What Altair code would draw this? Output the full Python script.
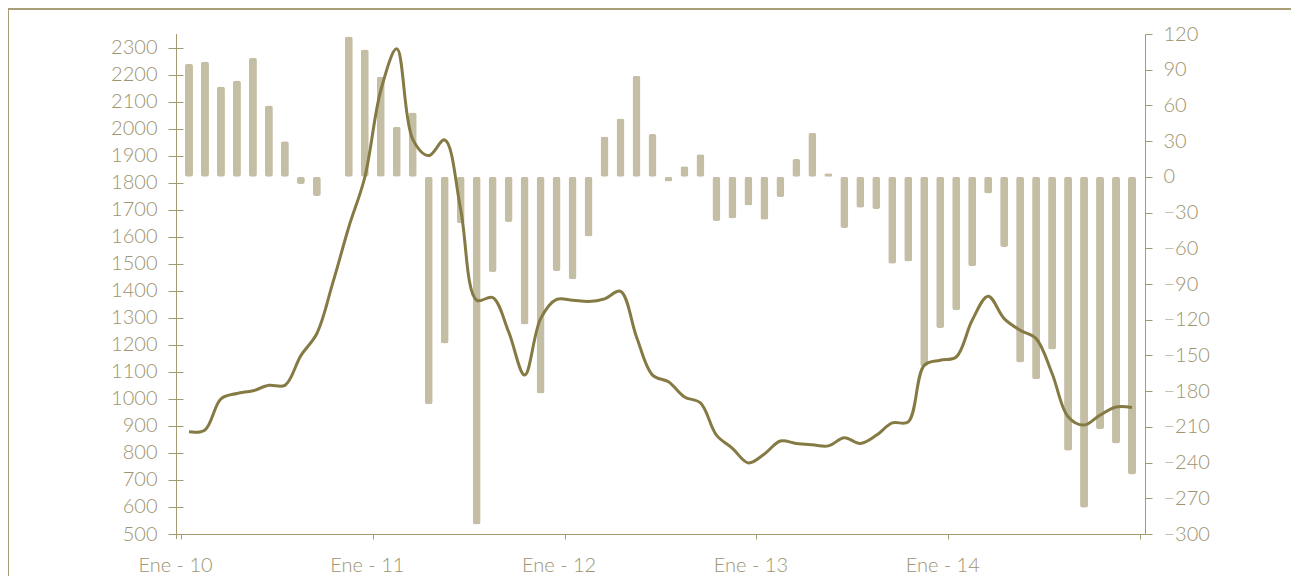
import altair as alt
import pandas as pd

# Monthly series, Jan 2010 .. Dec 2014
bar_values = [95, 97, 76, 81, 100, 60, 30, -6, -16, None,
              118, 107, 84, 42, 54, -191, -140, -39, -292, -80,
              -38, -124, -182, -79, -86, -50, 34, 49, 85, 36,
              -4, 9, 19, -37, -35, -24, -36, -17, 15, 37,
              3, -43, -26, -27, -73, -71, -159, -127, -112, -75,
              -14, -59, -156, -170, -145, -230, -278, -212, -224, -250]
line_values = [878, 885, 1000, 1020, 1030, 1050, 1050, 1160, 1242, 1430,
               1636, 1820, 2141, 2295, 1960, 1900, 1958, 1700, 1365, 1375,
               1248, 1088, 1297, 1368, 1365, 1360, 1370, 1398, 1229, 1088,
               1063, 1007, 985, 866, 817, 763, 796, 844, 835, 830,
               826, 856, 835, 865, 911, 915, 1124, 1143, 1155, 1291,
               1380, 1297, 1254, 1223, 1094, 934, 903, 940, 970, 968]
tick_positions = [0, 12, 24, 36, 48, 60]
tick_labels = ["Ene - 10", "Ene - 11", "Ene - 12", "Ene - 13", "Ene - 14", ""]
left_ticks = list(range(500, 2301, 100))
right_ticks = list(range(-300, 121, 30))

df = pd.DataFrame({
    "m": [i + 0.5 for i in range(len(line_values))],
    "bar": bar_values,
    "line": line_values,
})

AX = "#a39a72"
TXT = "#9d9470"
BAR = "#c4bea5"
LINE = "#857a43"
FRAME = "#a89f78"
FONT = "Lato"
W, H = 969, 500

label_expr = " : ".join(
    f"datum.value == {p} ? '{l}'" for p, l in zip(tick_positions, tick_labels)
) + " : ''"

xscale = alt.Scale(domain=[0, 60], nice=False, zero=False)
xaxis = alt.Axis(values=tick_positions, labelExpr=label_expr, grid=False,
                 domainColor=AX, tickColor=AX, tickSize=5, labelColor=TXT,
                 labelFont=FONT, labelFontSize=20, labelFontWeight=300,
                 labelPadding=16, labelOffset=-6,
                 title=None, labelFlush=False)

bars = alt.Chart(df).mark_bar(color=BAR, size=8, cornerRadius=2.5).encode(
    x=alt.X("m:Q", scale=xscale, axis=xaxis),
    y=alt.Y("bar:Q", scale=alt.Scale(domain=[-300, 120], nice=False),
            axis=alt.Axis(orient="right", values=right_ticks, grid=False,
                          format="d",
                          domainColor=AX, tickColor=AX, tickSize=7,
                          labelColor=TXT, labelFont=FONT, labelFontSize=20,
                          labelFontWeight=300,
                          labelPadding=11, title=None, labelFlush=False)),
)

line = alt.Chart(df).mark_line(color=LINE, strokeWidth=3,
                               interpolate="catmull-rom").encode(
    x=alt.X("m:Q", scale=xscale, axis=xaxis),
    y=alt.Y("line:Q", scale=alt.Scale(domain=[500, 2350], nice=False, zero=False),
            axis=alt.Axis(orient="left", values=left_ticks, grid=False,
                          format="d",
                          domain=False, offset=-7, tickColor=AX, tickSize=15,
                          labelColor=TXT, labelFont=FONT, labelFontSize=20,
                          labelFontWeight=300,
                          labelPadding=11, title=None, labelFlush=False)),
)

left_domain = alt.Chart(df).mark_rule(color=AX, strokeWidth=1).encode(
    x=alt.value(0.5), y=alt.value(0), y2=alt.value(H + 5)
)

frame_top = alt.Chart(df).mark_rule(color=FRAME, strokeWidth=2).encode(
    x=alt.value(-168), x2=alt.value(W + 200), y=alt.value(-25)
)
frame_left = alt.Chart(df).mark_rule(color=FRAME, strokeWidth=2).encode(
    x=alt.value(-168), y=alt.value(-26), y2=alt.value(H + 200)
)

chart = alt.layer(bars, line, left_domain, frame_top, frame_left).resolve_scale(
    y="independent"
).properties(
    width=W, height=H,
    autosize=alt.AutoSizeParams(type="none"),
    padding={"left": 168, "top": 26, "right": 146, "bottom": 42},
).configure_view(stroke=None)

chart.save("out.html", embed_options={"renderer": "svg", "actions": False})
